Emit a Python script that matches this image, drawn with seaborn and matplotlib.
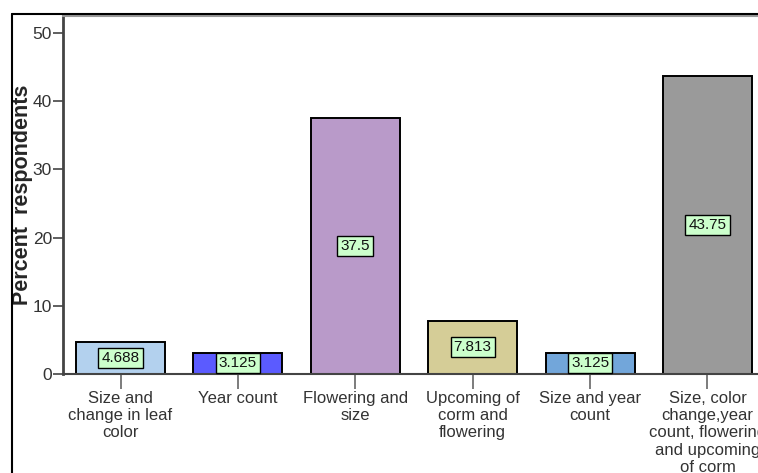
import pandas as pd
import matplotlib.pyplot as plt
import seaborn as sns
from matplotlib.lines import Line2D

categories = [
    "Size and\nchange in leaf\ncolor",
    "Year count",
    "Flowering and\nsize",
    "Upcoming of\ncorm and\nflowering",
    "Size and year\ncount",
    "Size, color\nchange,year\ncount, flowering\nand upcoming\nof corm",
]
percents = [4.688, 3.125, 37.5, 7.813, 3.125, 43.75]
value_labels = ["4.688", "3.125", "37.5", "7.813", "3.125", "43.75"]
bar_colors = ["#b3d1ee", "#5b5bff", "#b99ac9", "#d5cd97", "#72a6da", "#9a9a9a"]

df = pd.DataFrame({"category": categories, "percent": percents})

sns.set_style("white")
plt.rcParams["font.family"] = ["Liberation Sans", "DejaVu Sans"]

fig = plt.figure(figsize=(7.58, 4.73), dpi=100)
ax = fig.add_axes([63 / 758, 99 / 473, 702 / 758, 358 / 473])

sns.barplot(data=df, x="category", y="percent", hue="category", palette=bar_colors,
            saturation=1, width=0.757, edgecolor="black", linewidth=1.4, legend=False, ax=ax)

# value boxes at mid height of each bar
for i, (v, lab) in enumerate(zip(percents, value_labels)):
    ax.text(i, v / 2, lab, ha="center", va="center", fontsize=11, color="#111111",
            bbox=dict(boxstyle="square,pad=0.2", facecolor="#ccffcc", edgecolor="black", linewidth=1.0))

ax.set_xlim(-0.49, 5.49)
ax.set_ylim(0, 52.5)
ax.set_yticks([0, 10, 20, 30, 40, 50])
ax.set_xlabel("")
ax.set_ylabel("Percent  respondents", fontsize=15.5, fontweight="bold")
ax.yaxis.set_label_coords(-0.043, 0.5)
ax.tick_params(axis="y", left=True, labelsize=12.5, length=7, width=1.2, color="#444444", pad=1, labelcolor="#333333")
ax.tick_params(axis="x", bottom=True, labelsize=12, length=11, width=1.2, color="#666666", pad=1, labelcolor="#333333")
for lab in ax.get_xticklabels():
    lab.set_linespacing(1.2)

ax.spines["left"].set_color("#444444")
ax.spines["left"].set_linewidth(2)
ax.spines["bottom"].set_color("#444444")
ax.spines["bottom"].set_linewidth(1.5)
ax.spines["top"].set_color("#999999")
ax.spines["top"].set_linewidth(1.5)
ax.spines["right"].set_visible(False)

# outer frame of the screenshot
fig.add_artist(Line2D([12 / 758, 12 / 758], [0, 1 - 14 / 473], transform=fig.transFigure, color="black", linewidth=1.5))
fig.add_artist(Line2D([12 / 758, 1], [1 - 14 / 473, 1 - 14 / 473], transform=fig.transFigure, color="black", linewidth=1.5))

fig.savefig("out.png", dpi=100)
